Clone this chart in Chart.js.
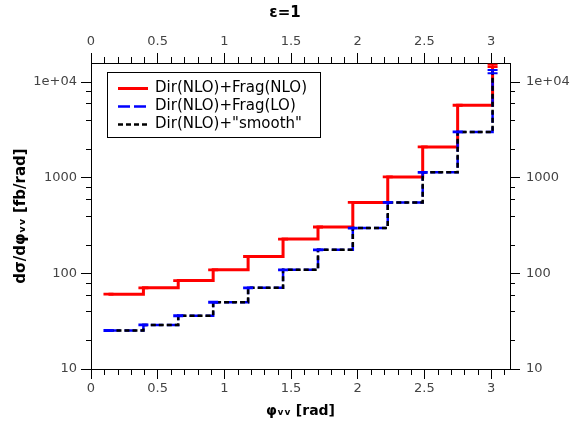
<!DOCTYPE html>
<html><head><meta charset="utf-8">
<script src="https://cdn.jsdelivr.net/npm/chart.js@4.4.1/dist/chart.umd.min.js"></script>
<style>html,body{margin:0;padding:0;background:#fff}#wrap{width:570px;height:427px}</style>
</head><body><div id="wrap"><canvas id="c" width="570" height="427"></canvas></div>
<script>
// ---- data ----
const phiCenters = [0.131, 0.393, 0.654, 0.916, 1.178, 1.440, 1.702, 1.963, 2.225, 2.487, 2.749, 3.011];
const dirNloFragNlo = [60.6, 70.5, 84.1, 108.8, 150, 228, 305, 551, 1017, 2096, 5716, 14720];
const dirNloFragLo  = [25.2, 28.9, 36.1, 49.9, 70.5, 108.8, 176, 297, 551, 1136, 3010, 12880];
const dirNloSmooth  = [25.2, 28.9, 36.1, 49.9, 70.5, 108.8, 176, 297, 551, 1136, 3010, 12880];
const errFragNlo = [0.6, 0.7, 0.8, 1.0, 1.5, 2, 3, 5, 9, 20, 60, 400];
const errFragLo  = [0.3, 0.3, 0.4, 0.5, 0.7, 1, 2, 3, 5, 10, 30, 500];
const seriesLabels = ['Dir(NLO)+Frag(NLO)', 'Dir(NLO)+Frag(LO)', 'Dir(NLO)+"smooth"'];
const xMajorTicks = [0, 0.5, 1, 1.5, 2, 2.5, 3];
const yMajorTicks = [10, 100, 1000, 10000];
const yTickLabels = ['10', '100', '1000', '1e+04'];
const yMinorMultipliers = [2, 4, 6, 8];
const xRange = [0, 3.1416];
const yRange = [10, 15800];

const FONT = 'DejaVu Sans';
const toPts = (xs, ys) => xs.map((x, i) => ({x: x, y: ys[i]}));

const minorTicks = {
  id: 'minorTicks',
  afterDraw(chart) {
    const ctx = chart.ctx, a = chart.chartArea;
    const xs = chart.scales.x, ys = chart.scales.y;
    ctx.save();
    ctx.strokeStyle = '#000'; ctx.lineWidth = 1;
    const seg = (x1, y1, x2, y2) => { ctx.beginPath(); ctx.moveTo(x1, y1); ctx.lineTo(x2, y2); ctx.stroke(); };
    for (let k = 1; k <= 31; k++) {
      if (k % 5 === 0) continue;
      const px = Math.round(xs.getPixelForValue(k / 10)) + 0.5;
      if (px > a.right) continue;
      seg(px, a.bottom, px, a.bottom + 6);
      seg(px, a.top, px, a.top - 6);
    }
    for (const dec of yMajorTicks) for (const m of yMinorMultipliers) {
      const v = dec * m;
      if (v > yRange[1]) continue;
      const py = Math.round(ys.getPixelForValue(v)) + 0.5;
      seg(a.left - 5, py, a.left, py);
      seg(a.right, py, a.right + 5, py);
    }
    ctx.restore();
  }
};

const errorBars = {
  id: 'errorBars',
  afterDatasetsDraw(chart) {
    const ctx = chart.ctx, xs = chart.scales.x, ys = chart.scales.y;
    ctx.save();
    chart.data.datasets.forEach(ds => {
      if (!ds.errors) return;
      ctx.strokeStyle = ds.borderColor; ctx.lineWidth = 2; ctx.setLineDash([]);
      ds.data.forEach((p, i) => {
        const px = xs.getPixelForValue(p.x);
        const e = ds.errors[i];
        const yl = ys.getPixelForValue(p.y - e), yh = ys.getPixelForValue(p.y + e);
        ctx.beginPath();
        ctx.moveTo(px, yl); ctx.lineTo(px, yh);
        ctx.moveTo(px - 5, yl); ctx.lineTo(px + 5, yl);
        ctx.moveTo(px - 5, yh); ctx.lineTo(px + 5, yh);
        ctx.stroke();
      });
    });
    ctx.restore();
  }
};

const boxLegend = {
  id: 'boxLegend',
  afterDraw(chart) {
    const ctx = chart.ctx;
    ctx.save();
    ctx.setLineDash([]);
    ctx.strokeStyle = '#000'; ctx.lineWidth = 1;
    ctx.fillStyle = '#fff';
    ctx.fillRect(107.5, 72.5, 213, 65);
    ctx.strokeRect(107.5, 72.5, 213, 65);
    ctx.font = '15px "' + FONT + '"';
    ctx.textBaseline = 'middle'; ctx.textAlign = 'left';
    const order = [0, 1, 2];
    order.forEach((di, row) => {
      const ds = chart.data.datasets[di];
      const y = 88.5 + row * 18;
      ctx.strokeStyle = ds.borderColor;
      ctx.lineWidth = ds.borderWidth;
      ctx.setLineDash(ds.borderDash || []);
      ctx.beginPath(); ctx.moveTo(118, y); ctx.lineTo(148, y); ctx.stroke();
      ctx.setLineDash([]);
      ctx.fillStyle = '#000';
      ctx.fillText(ds.label, 155, y);
    });
    ctx.restore();
  }
};

function xAxis(pos, showTitle) {
  return {
    type: 'linear', position: pos, min: xRange[0], max: xRange[1],
    afterBuildTicks: s => { s.ticks = xMajorTicks.map(v => ({value: v})); },
    afterFit: s => { s.height = pos === 'bottom' ? 58 : 37; },
    grid: {drawOnChartArea: false, drawTicks: true, tickLength: 10, color: '#000', tickColor: '#000'},
    border: {display: true, color: '#000', width: 1},
    ticks: {autoSkip: false, maxRotation: 0, padding: pos === 'bottom' ? 2 : 4, color: '#444',
            font: {family: FONT, size: 13}, callback: v => String(v)},
    title: {display: showTitle, text: 'φᵥᵥ [rad]', color: '#000',
            font: {family: FONT, size: 14, weight: 'bold'}, padding: {top: 0, bottom: 7}}
  };
}
function yAxis(pos, showTitle) {
  return {
    type: 'logarithmic', position: pos, min: yRange[0], max: yRange[1],
    afterBuildTicks: s => { s.ticks = yMajorTicks.map(v => ({value: v})); },
    afterFit: s => { s.width = pos === 'left' ? 91 : 60; },
    grid: {drawOnChartArea: false, drawTicks: true, tickLength: 10, color: '#000', tickColor: '#000'},
    border: {display: true, color: '#000', width: 1},
    ticks: {autoSkip: false, padding: pos === 'left' ? 4 : 6, color: '#444',
            font: {family: FONT, size: 13},
            callback: v => { const i = yMajorTicks.indexOf(v); return i >= 0 ? yTickLabels[i] : ''; }},
    title: {display: showTitle, text: 'dσ/dφᵥᵥ [fb/rad]', color: '#000',
            font: {family: FONT, size: 15, weight: 'bold'}, padding: {top: 12, bottom: 0}}
  };
}

new Chart(document.getElementById('c'), {
  type: 'line',
  data: {
    datasets: [
      {label: seriesLabels[0], data: toPts(phiCenters, dirNloFragNlo), errors: errFragNlo,
       borderColor: '#ff0000', borderWidth: 3, stepped: 'before', pointRadius: 0, fill: false, order: 3},
      {label: seriesLabels[1], data: toPts(phiCenters, dirNloFragLo), errors: errFragLo,
       borderColor: '#0000ff', borderWidth: 2.5, borderDash: [12, 4], stepped: 'before', pointRadius: 0, fill: false, order: 2},
      {label: seriesLabels[2], data: toPts(phiCenters, dirNloSmooth),
       borderColor: '#000000', borderWidth: 2.5, borderDash: [5, 3], stepped: 'before', pointRadius: 0, fill: false, order: 1}
    ]
  },
  options: {
    responsive: false, animation: false, devicePixelRatio: 1,
    layout: {padding: 0},
    plugins: {
      legend: {display: false}, tooltip: {enabled: false},
      title: {display: true, text: 'ε=1', color: '#000', font: {family: FONT, size: 15, weight: 'bold'},
              padding: {top: 4, bottom: 4}}
    },
    scales: {
      x: xAxis('bottom', true), x2: xAxis('top', false),
      y: yAxis('left', true), y2: yAxis('right', false)
    }
  },
  plugins: [minorTicks, errorBars, boxLegend]
});
</script></body></html>
